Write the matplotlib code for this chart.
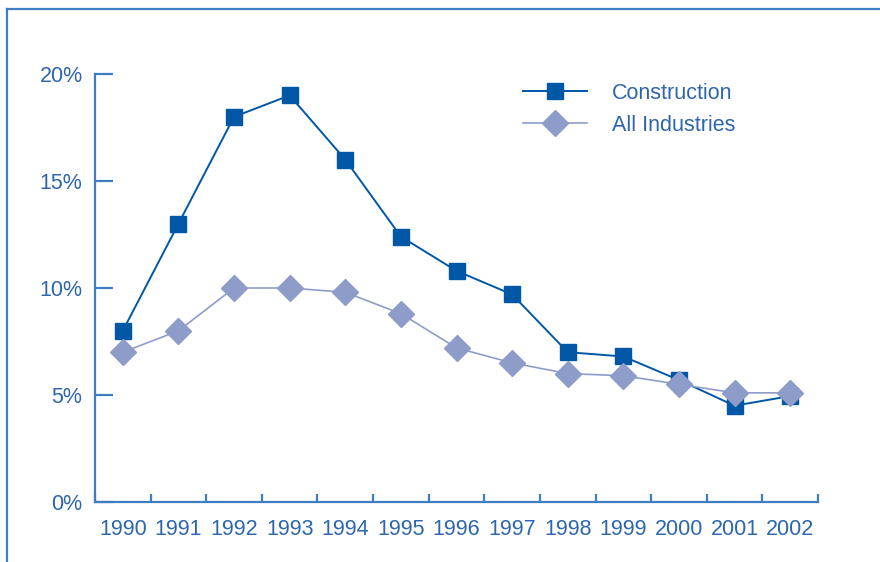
import matplotlib
matplotlib.use("Agg")
import matplotlib.pyplot as plt
from matplotlib.lines import Line2D

years = ["1990", "1991", "1992", "1993", "1994", "1995", "1996",
         "1997", "1998", "1999", "2000", "2001", "2002"]
construction = [8.0, 13.0, 18.0, 19.0, 16.0, 12.4, 10.8, 9.7, 7.0, 6.8, 5.7, 4.5, 4.95]
all_industries = [7.0, 8.0, 10.0, 10.0, 9.8, 8.8, 7.2, 6.5, 6.0, 5.9, 5.5, 5.1, 5.1]
yticks = [0, 5, 10, 15, 20]
ytick_labels = ["0%", "5%", "10%", "15%", "20%"]

TEXT = "#2D66AD"
AXIS = "#3F7DC2"
C_CON = "#0057A6"
C_ALL = "#8E9CC9"
FS = 15.5

plt.rcParams['font.family'] = ['Liberation Sans', 'DejaVu Sans']

W, H = 880, 562
fig = plt.figure(figsize=(W / 100, H / 100), dpi=100)
ax = fig.add_axes([95 / W, 1 - 502 / H, (818 - 95) / W, (502 - 74) / H])

x = list(range(len(years)))
l_con, = ax.plot(x, construction, color=C_CON, lw=1.4, marker='s', ms=12,
                 mfc=C_CON, mec=C_CON, label="Construction", zorder=3)
l_all, = ax.plot(x, all_industries, color=C_ALL, lw=1.2, marker='D', ms=13,
                 mfc=C_ALL, mec=C_ALL, label="All Industries", zorder=4)

ax.set_xlim(-0.5, len(years) - 0.5)
ax.set_ylim(0, 20)

for s in ['top', 'right']:
    ax.spines[s].set_visible(False)
for s in ['left', 'bottom']:
    ax.spines[s].set_color(AXIS)
    ax.spines[s].set_linewidth(1.6)

ax.set_yticks(yticks)
ax.set_yticklabels(ytick_labels)
ax.tick_params(axis='y', direction='in', length=13, width=1.6, color=AXIS,
               labelcolor=TEXT, labelsize=FS, pad=9)
ax.set_xticks(x)
ax.set_xticklabels(years)
ax.tick_params(axis='x', which='major', length=0, labelcolor=TEXT,
               labelsize=FS, pad=12)
ax.set_xticks([i - 0.5 for i in range(len(years) + 1)], minor=True)
ax.tick_params(axis='x', which='minor', direction='in', length=6, width=1.6,
               color=AXIS)

leg = ax.legend([l_con, l_all], ["Construction", "All Industries"], loc='upper left',
                bbox_to_anchor=(523 / W, 1 - 83 / H), bbox_transform=fig.transFigure,
                frameon=False, fontsize=FS, handlelength=2.98, handletextpad=1.16,
                labelspacing=0.5, borderpad=0, borderaxespad=0)
for t in leg.get_texts():
    t.set_color(TEXT)

fig.add_artist(Line2D([7 / W, 1.0], [1 - 9 / H, 1 - 9 / H], color=AXIS, lw=1.6,
                      transform=fig.transFigure))
fig.add_artist(Line2D([7 / W, 7 / W], [0, 1 - 9 / H], color=AXIS, lw=1.6,
                      transform=fig.transFigure))

fig.savefig("out.png", dpi=100)
